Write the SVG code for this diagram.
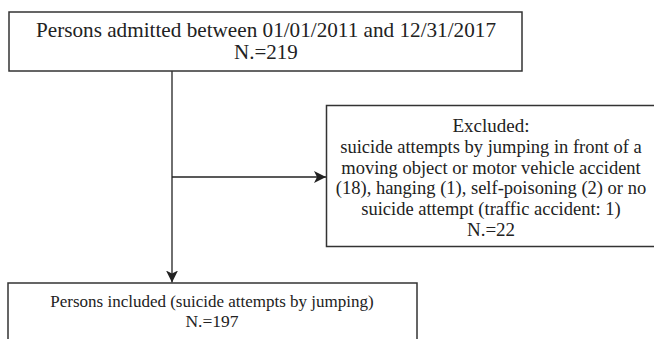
<svg xmlns="http://www.w3.org/2000/svg" width="654" height="339" viewBox="0 0 654 339">
<style>
.box{fill:#fff;stroke:#333;stroke-width:1.5}
.t{fill:#222;text-anchor:middle}
.c{stroke:#222;stroke-width:1.3;fill:none}
</style>
<defs>
<marker id="ah" viewBox="0 0 10 10" refX="10" refY="5" markerWidth="12" markerHeight="12" markerUnits="userSpaceOnUse" orient="auto">
<path d="M0,0 L10,5 L0,10 L2.5,5 Z" fill="#222"/>
</marker>
</defs>
<g id="connectors">
<line class="c" x1="172" y1="71" x2="172" y2="282.5" marker-end="url(#ah)"/>
<line class="c" x1="172" y1="177" x2="326" y2="177" marker-end="url(#ah)"/>
</g>
<g font-family="'Liberation Serif', 'Times New Roman', Times, serif">
<g id="admitted">
<rect class="box" x="9" y="12" width="513" height="59"/>
<text class="t" x="266" y="36.5" font-size="21.2">Persons admitted between 01/01/2011 and 12/31/2017</text>
<text class="t" x="266" y="58.5" font-size="21">N.=219</text>
</g>
<g id="excluded">
<rect class="box" x="326.5" y="105.5" width="332" height="141"/>
<text class="t" x="491" y="132" font-size="19">Excluded:</text>
<text class="t" font-size="18.5" x="491" y="153">suicide attempts by jumping in front of a</text>
<text class="t" font-size="18.5" x="491" y="173.5">moving object or motor vehicle accident</text>
<text class="t" font-size="18.5" x="491" y="194">(18), hanging (1), self-poisoning (2) or no</text>
<text class="t" font-size="18.5" x="491" y="214.5">suicide attempt (traffic accident: 1)</text>
<text class="t" font-size="19" x="491" y="236">N.=22</text>
</g>
<g id="included">
<rect class="box" x="8" y="283" width="409" height="70"/>
<text class="t" x="212" y="307" font-size="17">Persons included (suicide attempts by jumping)</text>
<text class="t" x="212" y="327" font-size="17.5">N.=197</text>
</g>
</g>
</svg>
